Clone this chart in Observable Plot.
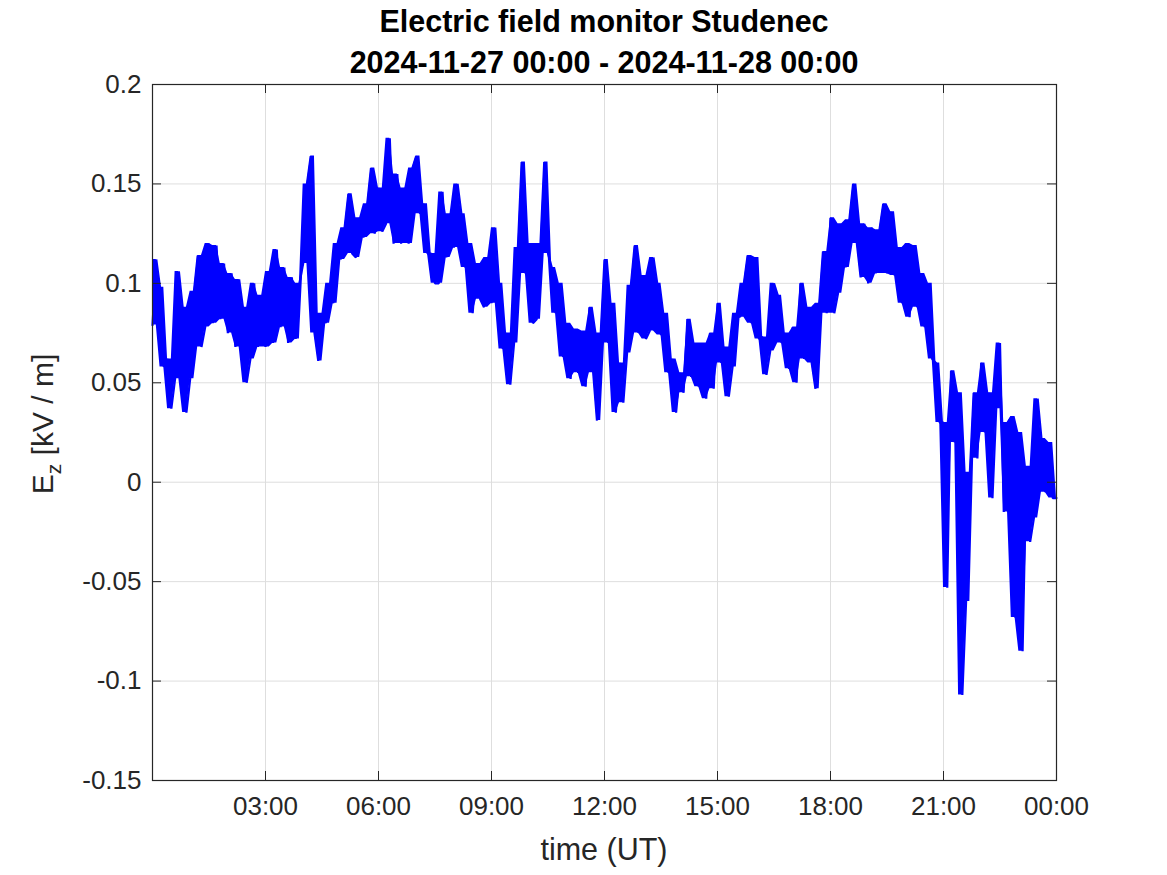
<!DOCTYPE html>
<html>
<head>
<meta charset="utf-8">
<script src="https://cdn.jsdelivr.net/npm/d3@7"></script>
<script src="https://cdn.jsdelivr.net/npm/@observablehq/plot@0.6"></script>
<style>
  html, body { margin: 0; padding: 0; background: #fff; }
</style>
</head>
<body>
<div id="chart"></div>
<script>
// Sampling: one reading every 0.1 h starting at 00:00 UT (2024-11-27)
const startHour = 0;
const stepHours = 0.1;

// Ez [kV/m], in 3-hour blocks
const ez_00_03 = [0.079, 0.112, 0.098, 0.058, 0.062, 0.037, 0.052, 0.106, 0.088, 0.035,
  0.052, 0.096, 0.114, 0.068, 0.078, 0.12, 0.08, 0.119, 0.082, 0.11,
  0.075, 0.105, 0.068, 0.102, 0.088, 0.05, 0.062, 0.1, 0.068, 0.094];
const ez_03_06 = [0.068, 0.106, 0.07, 0.117, 0.078, 0.108, 0.07, 0.103, 0.072, 0.1,
  0.11, 0.15, 0.164, 0.075, 0.061, 0.085, 0.08, 0.1, 0.09, 0.12,
  0.112, 0.128, 0.145, 0.115, 0.113, 0.133, 0.123, 0.14, 0.158, 0.125];
const ez_06_09 = [0.148, 0.126, 0.13, 0.173, 0.12, 0.155, 0.12, 0.148, 0.12, 0.158,
  0.164, 0.135, 0.14, 0.115, 0.115, 0.1, 0.1, 0.146, 0.113, 0.135,
  0.118, 0.15, 0.135, 0.108, 0.12, 0.085, 0.11, 0.092, 0.088, 0.113];
const ez_09_12 = [0.09, 0.128, 0.1, 0.067, 0.075, 0.049, 0.07, 0.118, 0.161, 0.105,
  0.12, 0.08, 0.082, 0.12, 0.161, 0.115, 0.108, 0.085, 0.1, 0.063,
  0.08, 0.052, 0.077, 0.055, 0.076, 0.048, 0.088, 0.055, 0.031, 0.075];
const ez_12_15 = [0.112, 0.07, 0.09, 0.035, 0.06, 0.04, 0.065, 0.099, 0.119, 0.075,
  0.104, 0.072, 0.076, 0.113, 0.1, 0.074, 0.085, 0.055, 0.062, 0.035,
  0.055, 0.045, 0.082, 0.053, 0.07, 0.048, 0.07, 0.042, 0.075, 0.047];
const ez_15_18 = [0.09, 0.06, 0.068, 0.043, 0.058, 0.085, 0.083, 0.1, 0.114, 0.08,
  0.113, 0.072, 0.073, 0.054, 0.066, 0.1, 0.094, 0.07, 0.075, 0.057,
  0.078, 0.05, 0.1, 0.062, 0.088, 0.06, 0.047, 0.09, 0.116, 0.085];
const ez_18_21 = [0.133, 0.085, 0.095, 0.13, 0.108, 0.132, 0.15, 0.12, 0.103, 0.13,
  0.1, 0.128, 0.105, 0.127, 0.14, 0.105, 0.136, 0.104, 0.118, 0.09,
  0.12, 0.083, 0.119, 0.088, 0.105, 0.078, 0.1, 0.062, 0.06, 0.03];
const ez_21_24 = [0.03, -0.053, 0.056, 0.02, 0.045, -0.107, -0.06, 0.005, 0.045, 0.012,
  0.06, 0.025, 0.045, -0.008, 0.037, 0.07, -0.015, 0.03, 0.033, -0.068,
  0.025, -0.085, 0.008, -0.03, -0.018, 0.042, 0.022, -0.005, 0.02, -0.008, -0.008];

const xTicks = [3, 6, 9, 12, 15, 18, 21, 24];
const yTicks = [-0.15, -0.1, -0.05, 0, 0.05, 0.1, 0.15, 0.2];
const xDomain = [0, 24];
const yDomain = [-0.15, 0.2];

const titleLine1 = "Electric field monitor Studenec";
const titleLine2 = "2024-11-27 00:00 - 2024-11-28 00:00";
const xLabel = "time (UT)";

const values = [...ez_00_03, ...ez_03_06, ...ez_06_09, ...ez_09_12,
                ...ez_12_15, ...ez_15_18, ...ez_18_21, ...ez_21_24];
// each consecutive pair of readings spans the min/max of the noisy trace in a 0.2 h window
const data = values.map((v, i) => {
  const j = i - (i % 2);
  const a = values[j], b = values[Math.min(j + 1, values.length - 1)];
  return {t: startHour + i * stepHours, v, lo: Math.min(a, b), hi: Math.max(a, b)};
});

const W = 1167, H = 875;
const mL = 152, mR = 111, mT = 84, mB = 95;
const frameW = W - mL - mR, frameH = H - mT - mB;
const tick = 9;
const axisColor = "#262626";
const blue = "#0000ff";

const fmtX = d => String(d % 24).padStart(2, "0") + ":00";
const fmtY = d => String(+d.toFixed(2));

const chart = Plot.plot({
  width: W, height: H,
  marginLeft: mL, marginRight: mR, marginTop: mT, marginBottom: mB,
  style: {fontFamily: "'Liberation Sans', Arial, Helvetica, sans-serif", fontSize: "26px", color: axisColor, background: "#fff"},
  x: {domain: xDomain},
  y: {domain: yDomain},
  marks: [
    Plot.gridX(xTicks, {stroke: "#dedede", strokeOpacity: 1}),
    Plot.gridY(yTicks, {stroke: "#dedede", strokeOpacity: 1}),
    Plot.areaY(data, {x: "t", y1: "lo", y2: "hi", fill: blue}),
    Plot.line(data, {x: "t", y: "v", stroke: blue, strokeWidth: 2.2, strokeLinejoin: "miter"}),
    // inward ticks on all four sides
    Plot.tickX(xTicks, {x: d => d, stroke: axisColor, insetTop: frameH - tick}),
    Plot.tickX(xTicks, {x: d => d, stroke: axisColor, insetBottom: frameH - tick}),
    Plot.tickY(yTicks, {y: d => d, stroke: axisColor, insetRight: frameW - tick}),
    Plot.tickY(yTicks, {y: d => d, stroke: axisColor, insetLeft: frameW - tick}),
    Plot.axisX(xTicks, {tickSize: 0, tickPadding: 16, tickFormat: fmtX, label: null, fontSize: 26, fill: axisColor}),
    Plot.axisY(yTicks, {tickSize: 0, tickPadding: 11, tickFormat: fmtY, label: null, fontSize: 26, fill: axisColor}),
    Plot.frame({stroke: axisColor, strokeWidth: 1.2})
  ]
});

const svg = d3.select(chart);
const cx = mL + frameW / 2;
svg.append("text").attr("x", cx).attr("y", 32).attr("text-anchor", "middle")
  .attr("font-size", 30.5).attr("font-weight", "bold").attr("fill", "#000").text(titleLine1);
svg.append("text").attr("x", cx).attr("y", 73).attr("text-anchor", "middle")
  .attr("font-size", 30.5).attr("font-weight", "bold").attr("fill", "#000").text(titleLine2);
svg.append("text").attr("x", cx).attr("y", 860).attr("text-anchor", "middle")
  .attr("font-size", 30.5).attr("fill", axisColor).text(xLabel);
const yl = svg.append("text").attr("transform", `translate(53,${mT + frameH / 2 - 8}) rotate(-90)`)
  .attr("text-anchor", "middle").attr("font-size", 30).attr("fill", axisColor);
yl.append("tspan").text("E");
yl.append("tspan").attr("font-size", 21).attr("dy", 8).text("z");
yl.append("tspan").attr("dy", -8).text(" [kV / m]");

document.getElementById("chart").appendChild(chart);
</script>
</body>
</html>
